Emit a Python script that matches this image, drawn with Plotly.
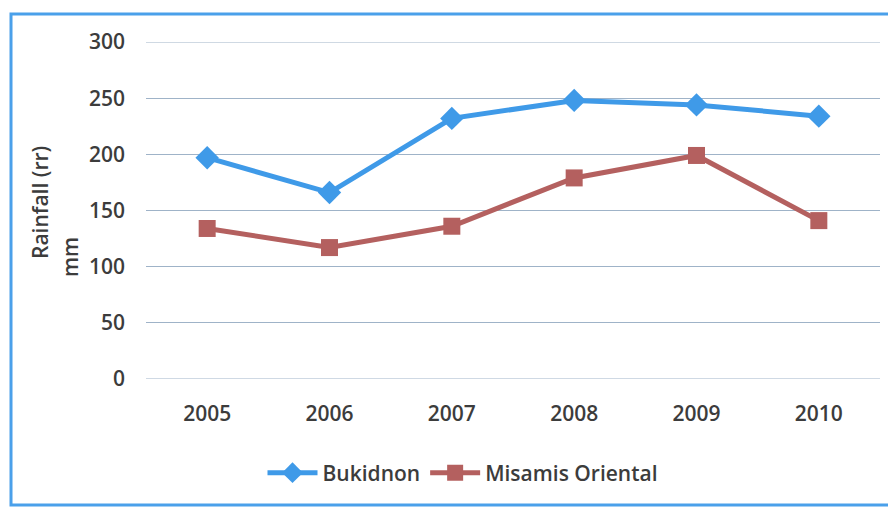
import plotly.graph_objects as go

years = ["2005", "2006", "2007", "2008", "2009", "2010"]
bukidnon = [197, 166, 232, 248, 244, 234]
misamis = [134, 117, 136, 179, 199, 141]
y_ticks = [0, 50, 100, 150, 200, 250, 300]

OFF = 8  # browser body margin
W, H = 896 - OFF, 512 - OFF
L, R, T, B = 146 - OFF, 880 - OFF, 42 - OFF, 379 - OFF

def px(x):
    return (x - OFF - L) / (R - L)

def py(y):
    return (B - (y - OFF)) / (B - T)

font_family = "Open Sans, Lato, sans-serif"
txt = "#3c3c3c"
fs = 21
fw = 600
grid_col = "#9fb3c8"

fig = go.Figure()
fig.add_trace(go.Scatter(
    x=years, y=bukidnon, name="Bukidnon", mode="lines+markers",
    line=dict(color="#3f9ae8", width=5),
    marker=dict(symbol="diamond", size=18, color="#3f9ae8"),
))
fig.add_trace(go.Scatter(
    x=years, y=misamis, name="Misamis Oriental", mode="lines+markers",
    line=dict(color="#b4605f", width=5),
    marker=dict(symbol="square", size=17, color="#b4605f"),
))

fnt = dict(family=font_family, size=fs, color=txt, weight=fw)

shapes = [dict(type="rect", xref="paper", yref="paper",
               x0=px(11), x1=px(893), y0=py(505), y1=py(14),
               line=dict(color="#4aa0ea", width=3), layer="below")]
for v in (y_ticks[0], y_ticks[-1]):
    shapes.append(dict(type="line", xref="paper", yref="y", x0=0, x1=1, y0=v, y1=v,
                       line=dict(color=grid_col, width=1), layer="below"))

fig.update_layout(
    width=W, height=H,
    margin=dict(l=L, r=W - R, t=T, b=H - B, pad=0),
    paper_bgcolor="white", plot_bgcolor="white",
    font=fnt,
    showlegend=True,
    legend=dict(orientation="h", x=px(463), xanchor="center",
                y=py(473), yanchor="middle", font=fnt,
                itemwidth=50, bgcolor="rgba(0,0,0,0)"),
    xaxis=dict(range=[-0.5, len(years) - 0.5], showgrid=False, showline=False,
               zeroline=False, ticks="", tickfont=fnt, ticklabelstandoff=20),
    yaxis=dict(range=[0, 300], tickvals=y_ticks, showgrid=True,
               gridcolor=grid_col, gridwidth=1, zeroline=False, showline=False,
               ticks="", tickfont=fnt, ticklabelstandoff=20),
    shapes=shapes,
    annotations=[
        dict(text="Rainfall (rr)", xref="paper", yref="paper", x=px(40), y=py(203),
             showarrow=False, textangle=-90, font=fnt,
             xanchor="center", yanchor="middle"),
        dict(text="mm", xref="paper", yref="paper", x=px(70), y=py(257),
             showarrow=False, textangle=-90, font=fnt,
             xanchor="center", yanchor="middle"),
    ],
)

fig.write_html("out.html")
